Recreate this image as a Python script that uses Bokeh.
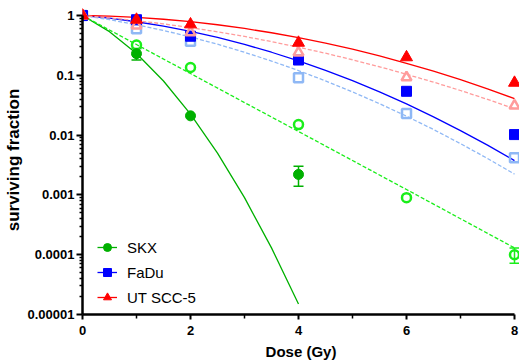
from bokeh.plotting import figure
from bokeh.models import (FixedTicker, CustomJSTickFormatter, Legend, LegendItem,
                          Range1d)
from bokeh.embed import file_html
from bokeh.resources import INLINE

# ---------------- data ----------------
dose = [0, 1, 2, 4, 6, 8]

skx_filled_x = [0, 1, 2, 4]
skx_filled_y = [1.0, 0.23, 0.021, 0.0022]
skx_open_y = [1.0, 0.32, 0.135, 0.015, 0.0009, 0.0001]

fadu_filled_y = [1.0, 0.85, 0.45, 0.18, 0.054, 0.0102]
fadu_open_y = [1.0, 0.6, 0.37, 0.091, 0.023, 0.0042]

ut_filled_y = [1.0, 0.85, 0.71, 0.35, 0.2, 0.075]
ut_open_y = [1.0, 0.68, 0.52, 0.24, 0.092, 0.031]

# error bars
skx_err_x = [1, 4]
skx_err_lo = [0.18, 0.0014]
skx_err_hi = [0.28, 0.003]
skx_open_err_x = [8]
skx_open_err_lo = [0.000072]
skx_open_err_hi = [0.00013]

# fitted curves
fit_x_skx = [0, 0.5, 1, 1.5, 2, 2.5, 3, 3.5, 4]
fit_skx_filled = [1.0, 0.537, 0.232, 0.0804, 0.0224, 0.005, 0.0009, 0.00013, 0.000015]
fit_x_skx_open = [0, 1, 2, 3, 4, 5, 6, 7, 8]
fit_skx_open = [1.0, 0.327, 0.107, 0.035, 0.0115, 0.00376, 0.00123, 0.0004, 0.00013]

fit_x = [0, 0.5, 1, 1.5, 2, 2.5, 3, 3.5, 4, 4.5, 5, 5.5, 6, 6.5, 7, 7.5, 8]
fit_fadu_filled = [1.0, 0.901, 0.786, 0.664, 0.543, 0.429, 0.328, 0.243, 0.174,
                   0.121, 0.0813, 0.0528, 0.0332, 0.0202, 0.0119, 0.0068, 0.00375]
fit_fadu_open = [1.0, 0.85, 0.701, 0.562, 0.438, 0.331, 0.243, 0.173, 0.12,
                 0.0807, 0.0528, 0.0335, 0.0207, 0.0124, 0.0072, 0.00407, 0.00223]
fit_ut_filled = [1.0, 0.976, 0.93, 0.866, 0.787, 0.7, 0.607, 0.515, 0.427,
                 0.345, 0.273, 0.211, 0.159, 0.117, 0.0844, 0.0593, 0.0408]
fit_ut_open = [1.0, 0.914, 0.821, 0.724, 0.627, 0.534, 0.446, 0.366, 0.295,
               0.234, 0.182, 0.139, 0.104, 0.0769, 0.0557, 0.0396, 0.0276]

x_major = [0, 2, 4, 6, 8]
x_minor = [1, 3, 5, 7]
y_major = [0.00001, 0.0001, 0.001, 0.01, 0.1, 1]

legend_labels = ["SKX", "FaDu", "UT SCC-5"]

# ---------------- colours ----------------
C_SKX = "#00b000"
C_SKX_O = "#1aee1a"
C_FADU = "#0000ff"
C_FADU_O = "#8fb8f5"
C_UT = "#ff0000"
C_UT_O = "#ff9c9c"

FONT = "Liberation Sans"

L = 82
x_end = 8 + 5 / 54.0

p = figure(width=519, height=364, y_axis_type="log",
           x_range=Range1d(0, x_end), y_range=Range1d(0.00001, 1.47),
           output_backend="svg", toolbar_location=None,
           min_border_left=L, min_border_right=0, min_border_top=5,
           min_border_bottom=50)
p.outline_line_color = None
p.xgrid.visible = False
p.ygrid.visible = False
p.background_fill_color = "white"

# ---------------- curves ----------------
l_skx = p.line(fit_x_skx, fit_skx_filled, line_color=C_SKX, line_width=1.3)
p.line(fit_x_skx_open, fit_skx_open, line_color=C_SKX_O, line_width=1.3, line_dash="4 2")
l_fadu = p.line(fit_x, fit_fadu_filled, line_color=C_FADU, line_width=1.3)
p.line(fit_x, fit_fadu_open, line_color=C_FADU_O, line_width=1.3, line_dash="4 2")
l_ut = p.line(fit_x, fit_ut_filled, line_color=C_UT, line_width=1.3)
p.line(fit_x, fit_ut_open, line_color=C_UT_O, line_width=1.3, line_dash="4 2")

# ---------------- error bars ----------------
p.segment(skx_err_x, skx_err_lo, skx_err_x, skx_err_hi, line_color=C_SKX, line_width=1.5)
p.scatter(skx_err_x + skx_err_x, skx_err_lo + skx_err_hi, marker="dash", size=10,
          line_color=C_SKX, line_width=1.5)
p.segment(skx_open_err_x, skx_open_err_lo, skx_open_err_x, skx_open_err_hi,
          line_color=C_SKX_O, line_width=1.5)
p.scatter(skx_open_err_x + skx_open_err_x, skx_open_err_lo + skx_open_err_hi,
          marker="dash", size=10, line_color=C_SKX_O, line_width=1.5)

# ---------------- points ----------------
p.scatter(dose, skx_open_y, marker="circle", size=9, fill_alpha=0,
          line_color=C_SKX_O, line_width=2.5)
s_skx = p.scatter(skx_filled_x, skx_filled_y, marker="circle", size=10,
                  fill_color=C_SKX, line_color=C_SKX)
p.scatter(dose, fadu_open_y, marker="square", size=9, fill_alpha=0,
          line_color=C_FADU_O, line_width=2.5)
s_fadu = p.scatter(dose, fadu_filled_y, marker="square", size=10,
                   fill_color=C_FADU, line_color=C_FADU)
p.scatter(dose, ut_open_y, marker="triangle", size=10, fill_alpha=0,
          line_color=C_UT_O, line_width=2.5)
s_ut = p.scatter(dose, ut_filled_y, marker="triangle", size=12,
                 fill_color=C_UT, line_color=C_UT)

# ---------------- axes ----------------
xa = p.xaxis[0]
xa.ticker = FixedTicker(ticks=x_major, minor_ticks=x_minor)
xa.bounds = (0, 8)
xa.axis_label = "Dose (Gy)"
ya = p.yaxis[0]
ya.ticker = FixedTicker(ticks=y_major,
                        minor_ticks=[m * d for d in y_major[:-1] for m in range(2, 10)])
ya.bounds = (0.00001, 1)
ya.axis_label = "surviving fraction"
ya.formatter = CustomJSTickFormatter(code="""
if (tick >= 0.99) return "1";
const n = Math.round(-Math.log10(tick));
return tick.toFixed(n);
""")

for ax in (xa, ya):
    ax.axis_line_width = 2.5
    ax.axis_line_color = "black"
    ax.major_tick_line_width = 2
    ax.minor_tick_line_width = 1.5
    ax.major_tick_in = 0
    ax.minor_tick_in = 0
    ax.major_label_text_font = FONT
    ax.major_label_text_font_style = "bold"
    ax.major_label_text_font_size = "13px"
    ax.major_label_text_color = "black"
    ax.axis_label_text_font = FONT
    ax.axis_label_text_font_style = "bold"
    ax.axis_label_text_color = "black"

xa.axis_label_text_font_size = "15px"
ya.axis_label_text_font_size = "17px"
xa.major_tick_out = 5
xa.minor_tick_out = 4
xa.major_label_standoff = 6
xa.axis_label_standoff = 5
ya.major_tick_out = 6
ya.minor_tick_out = 3
ya.major_label_standoff = 2
ya.axis_label_standoff = 2

# ---------------- legend ----------------
legend = Legend(items=[
    LegendItem(label=legend_labels[0], renderers=[l_skx, s_skx]),
    LegendItem(label=legend_labels[1], renderers=[l_fadu, s_fadu]),
    LegendItem(label=legend_labels[2], renderers=[l_ut, s_ut]),
])
legend.location = (15, 7)
legend.padding = 0
legend.margin = 0
legend.spacing = 5
legend.glyph_width = 20
legend.glyph_height = 20
legend.label_height = 20
legend.label_standoff = 10
legend.border_line_color = None
legend.background_fill_alpha = 0
legend.label_text_font = FONT
legend.label_text_font_size = "15px"
legend.label_text_color = "black"
p.add_layout(legend)

open("out.html", "w").write(file_html(p, INLINE))
